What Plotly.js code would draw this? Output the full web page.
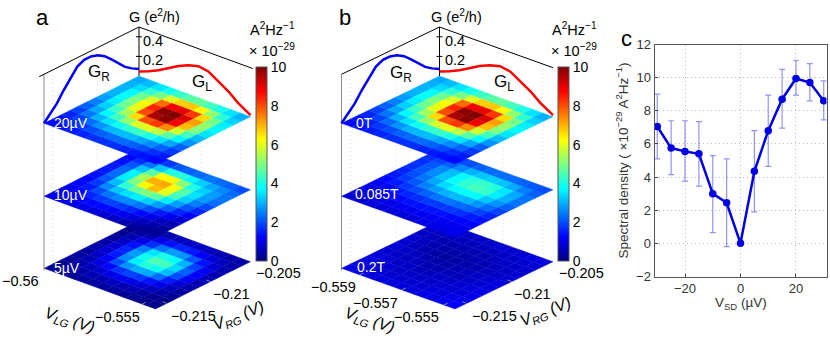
<!DOCTYPE html>
<html>
<head>
<meta charset="utf-8">
<script src="https://cdn.plot.ly/plotly-3.0.1.min.js"></script>
<style>html,body{margin:0;padding:0;background:#fff}</style>
</head>
<body>
<div id="gd" style="width:830px;height:348px"></div>
<script>
// rows run along V_LG, columns along V_RG, values in 1e-29 A^2/Hz
var a20uV = [
  [1.3,1.4,1.6,1.9,2.2,2.5,2.8,3.0,3.0,3.0,2.9],
  [1.4,1.6,1.9,2.4,2.9,3.3,3.6,3.8,3.7,3.4,3.1],
  [1.5,1.8,2.3,3.0,3.7,4.3,4.8,5.0,4.8,4.2,3.5],
  [1.6,2.0,2.7,3.5,4.4,5.3,6.0,6.3,5.9,4.9,3.9],
  [1.7,2.2,3.0,3.9,5.2,6.6,8.0,8.4,7.7,5.9,4.3],
  [1.7,2.3,3.1,4.2,5.9,8.0,9.6,9.9,8.9,6.7,4.6],
  [1.7,2.3,3.1,4.3,6.0,8.2,9.9,10,9.0,6.8,4.7],
  [1.6,2.2,2.9,4.0,5.6,7.4,8.9,9.1,8.2,6.3,4.4],
  [1.5,2.0,2.6,3.5,4.6,5.8,6.9,7.2,6.6,5.2,4.0],
  [1.4,1.7,2.2,2.9,3.7,4.4,5.0,5.2,4.9,4.2,3.5],
  [1.3,1.5,1.8,2.2,2.7,3.1,3.5,3.7,3.6,3.3,3.0]
];
var a10uV = [
  [1.0,1.0,1.1,1.2,1.3,1.4,1.5,1.5,1.4,1.3,1.2],
  [1.0,1.1,1.3,1.5,1.8,2.1,2.3,2.3,2.1,1.7,1.3],
  [1.0,1.2,1.6,2.0,2.6,3.1,3.6,3.7,3.2,2.4,1.5],
  [1.0,1.3,1.8,2.4,3.2,4.2,5.0,5.4,4.6,3.2,1.8],
  [0.9,1.3,1.9,2.6,3.5,4.8,6.3,7.0,6.2,4.0,2.1],
  [0.8,1.2,1.8,2.6,3.6,5.0,6.9,7.1,6.3,4.1,2.2],
  [0.7,1.1,1.6,2.4,3.3,4.6,6.0,6.2,5.1,3.7,2.3],
  [0.5,0.9,1.3,2.0,2.8,3.6,4.4,4.6,4.0,3.3,2.4],
  [0.3,0.6,1.0,1.5,2.2,2.8,3.3,3.5,3.3,2.9,2.3],
  [0.2,0.4,0.7,1.1,1.6,2.1,2.5,2.8,2.8,2.6,2.2],
  [0.2,0.3,0.5,0.8,1.2,1.6,2.0,2.3,2.4,2.3,2.0]
];
var a5uV = [
  [0.2,0.2,0.2,0.3,0.3,0.4,0.4,0.3,0.2,0.1,0.1],
  [0.2,0.3,0.4,0.5,0.7,0.8,0.8,0.7,0.5,0.3,0.2],
  [0.2,0.4,0.6,0.9,1.2,1.5,1.6,1.4,1.0,0.6,0.3],
  [0.3,0.5,0.8,1.3,2.0,2.6,2.8,2.5,1.7,1.0,0.5],
  [0.3,0.5,1.0,1.7,2.7,3.6,3.9,3.5,2.4,1.4,0.6],
  [0.3,0.6,1.1,1.9,3.0,4.1,4.5,4.0,2.8,1.6,0.7],
  [0.3,0.5,1.0,1.8,2.9,3.9,4.4,3.8,2.7,1.5,0.7],
  [0.2,0.5,0.8,1.4,2.3,3.1,3.4,3.0,2.1,1.2,0.6],
  [0.2,0.3,0.6,1.0,1.5,2.0,2.2,1.9,1.4,0.9,0.5],
  [0.1,0.2,0.4,0.6,0.8,1.1,1.2,1.1,0.8,0.6,0.4],
  [0.1,0.1,0.2,0.3,0.4,0.5,0.6,0.5,0.5,0.4,0.4]
];
var b0T = a20uV; // same sweep as the 20uV map
var b085T = [
  [0.8,0.9,1.0,1.2,1.3,1.5,1.6,1.7,1.7,1.7,1.7],
  [0.8,0.9,1.1,1.3,1.5,1.8,2.0,2.1,2.1,1.9,1.8],
  [0.9,1.0,1.2,1.5,1.8,2.1,2.4,2.6,2.6,2.2,1.9],
  [0.9,1.0,1.3,1.6,2.0,2.5,2.9,3.2,3.1,2.6,2.0],
  [0.9,1.1,1.4,1.7,2.2,2.8,3.4,3.8,3.7,3.0,2.2],
  [0.9,1.1,1.4,1.8,2.4,3.0,3.7,4.2,4.1,3.2,2.3],
  [0.9,1.1,1.4,1.8,2.4,3.1,3.8,4.4,4.3,3.3,2.3],
  [1.0,1.1,1.4,1.8,2.3,3.0,3.7,4.3,4.1,3.2,2.3],
  [1.0,1.1,1.3,1.7,2.2,2.7,3.2,3.6,3.5,2.9,2.2],
  [1.0,1.1,1.2,1.5,1.9,2.3,2.7,3.0,2.9,2.5,2.1],
  [1.1,1.1,1.2,1.4,1.6,1.9,2.2,2.4,2.4,2.2,2.0]
];
var b02T = [
  [1.0,0.9,0.9,0.9,0.8,0.8,0.8,0.8,0.7,0.7,0.7],
  [1.0,0.9,0.8,0.8,0.7,0.7,0.6,0.6,0.6,0.6,0.7],
  [0.9,0.8,0.8,0.7,0.6,0.6,0.5,0.5,0.5,0.6,0.7],
  [0.9,0.8,0.7,0.7,0.6,0.5,0.4,0.4,0.5,0.6,0.7],
  [0.9,0.8,0.7,0.6,0.5,0.4,0.3,0.4,0.5,0.6,0.7],
  [0.9,0.8,0.7,0.6,0.5,0.4,0.4,0.4,0.5,0.6,0.7],
  [0.9,0.8,0.7,0.7,0.6,0.5,0.4,0.5,0.5,0.6,0.8],
  [1.0,0.9,0.8,0.7,0.6,0.6,0.5,0.5,0.6,0.7,0.8],
  [1.0,0.9,0.8,0.8,0.7,0.7,0.6,0.6,0.7,0.7,0.8],
  [1.1,1.0,0.9,0.9,0.8,0.8,0.7,0.7,0.7,0.8,0.9],
  [1.2,1.1,1.0,1.0,0.9,0.9,0.8,0.8,0.8,0.8,0.9]
];

// conductance traces on the back walls
var grFrac = [0,0.065,0.136,0.208,0.28,0.351,0.423,0.495,0.566,0.638,0.71,0.781,0.853,0.925,1];
var grG = [0,0.069,0.137,0.239,0.324,0.409,0.443,0.443,0.421,0.377,0.309,0.235,0.164,0.114,0.072];
var glFrac = [0,0.087,0.176,0.265,0.354,0.444,0.533,0.622,0.712,0.801,0.89,1];
var glG = [0.046,0.084,0.132,0.192,0.25,0.295,0.322,0.305,0.245,0.177,0.093,0.017];

// panel c
var vsd = [-30,-25,-20,-15,-10,-5,0,5,10,15,20,25,30];
var spectral = [7.05,5.75,5.55,5.4,3,2.45,0,4.35,6.8,8.7,9.95,9.7,8.6];
var errUp = [1.95,1.65,1.85,1.95,2.3,2.65,0,2.45,2.15,1.8,1.1,1.15,1.2];
var errDown = [1.95,1.6,1.8,1.95,2.35,2.65,0,2.45,2.15,1.75,1,1.1,1.15];

var jetStops = [[0,[0,0,128]],[0.125,[0,0,255]],[0.375,[0,255,255]],[0.625,[255,255,0]],[0.875,[255,0,0]],[1,[128,0,0]]];
var jetScale = jetStops.map(function(s) { return [s[0], "rgb(" + s[1].join(",") + ")"]; });

function jetColor(val) {
  var t = val / 10;
  for (var k = 1; k < jetStops.length; k++) {
    if (t <= jetStops[k][0]) {
      var a = jetStops[k - 1], b = jetStops[k];
      var f = (t - a[0]) / (b[0] - a[0]);
      return "rgb(" + [0, 1, 2].map(function(c) { return Math.round(a[1][c] + f * (b[1][c] - a[1][c])); }).join(",") + ")";
    }
  }
  return "rgb(128,0,0)";
}

var traces = [];
var annotations = [];
var F = "Liberation Sans, Arial, sans-serif";
var LAYER = [0, 72, 145];   // stacking height of the maps
var WALL_TOP = 194;
var G_SCALE = 98;

// oblique view: u along V_LG, v along V_RG, h upwards
function projector(p) {
  return function(u, v, h) {
    return [p.lx + u * (p.bx - p.lx) + v * (p.tx - p.lx),
            p.ly + u * (p.by - p.ly) + v * (p.ty - p.ly) - h];
  };
}

function line(pts, color, width, dash) {
  traces.push({
    type: "scatter", mode: "lines", hoverinfo: "skip", showlegend: false,
    x: pts.map(function(q) { return q[0]; }),
    y: pts.map(function(q) { return q[1]; }),
    line: {color: color, width: width, dash: dash || "solid", shape: "linear"}
  });
}

function label(text, x, y, size, opts) {
  var o = opts || {};
  annotations.push({
    text: text, x: x / 830, y: 1 - y / 348, xref: "paper", yref: "paper",
    xanchor: "center", yanchor: "middle", showarrow: false,
    textangle: o.angle || 0,
    font: {family: F, size: size, color: o.color || "#000"}
  });
}

function panel(p) {
  var P = projector(p);

  p.wallGridV.forEach(function(v) { line([P(0, v, 0), P(0, v, WALL_TOP)], "#dcdcdc", 1, "1px,3px"); });
  p.wallGridU.forEach(function(u) { line([P(u, 1, 0), P(u, 1, WALL_TOP)], "#dcdcdc", 1, "1px,3px"); });
  line([P(0, 0, -2), P(0, 0, WALL_TOP)], p.wallColor, p.wallWidth);

  // maps, lowest first so the upper one covers the overlap
  p.maps.forEach(function(m, n) {
    var h = LAYER[n];
    m.forEach(function(row, i) {
      row.forEach(function(val, j) {
        var c = [P(i / 11, j / 11, h), P((i + 1) / 11, j / 11, h), P((i + 1) / 11, (j + 1) / 11, h), P(i / 11, (j + 1) / 11, h), P(i / 11, j / 11, h)];
        var col = jetColor(val);
        traces.push({
          type: "scatter", mode: "lines", fill: "toself", fillcolor: col, hoverinfo: "skip", showlegend: false,
          x: c.map(function(q) { return q[0]; }),
          y: c.map(function(q) { return q[1]; }),
          line: {color: col, width: 0.4}
        });
      });
    });
  });

  // roof and G axis
  line([P(0, p.roofStart, WALL_TOP), P(0, 1, WALL_TOP), P(p.roofEnd, 1, WALL_TOP)], "#000", 1);
  line([P(0, 1, LAYER[2]), P(0, 1, WALL_TOP)], "#000", 1);
  [0.2, 0.4].forEach(function(g) {
    var q = P(0, 1, LAYER[2] + g * G_SCALE);
    line([[q[0] - 3, q[1]], [q[0] + 3, q[1]]], "#000", 1);
  });

  // floor ticks
  p.tickU.forEach(function(u) { var q = P(u, 0, 0), r = P(u, 0.04, 0); line([q, r], "#888", 1); });
  p.tickV.forEach(function(v) { var q = P(1, v, 0), r = P(0.96, v, 0); line([q, r], "#888", 1); });

  // G_R and G_L
  line(grFrac.map(function(f, k) { return P(0, f, LAYER[2] + grG[k] * G_SCALE); }), "#0000ff", 2.5);
  line(glFrac.map(function(f, k) { return P(f, 1, LAYER[2] + glG[k] * G_SCALE); }), "#ff0000", 2.5);

  // colour bar
  traces.push({
    type: "scatter", mode: "markers", x: [null], y: [null], showlegend: false, hoverinfo: "skip",
    marker: {
      color: [0], cmin: 0, cmax: 10, colorscale: jetScale, showscale: true,
      colorbar: {
        x: p.cbarX / 830, xanchor: "left", xref: "paper",
        y: 1 - 261 / 348, yanchor: "bottom", yref: "paper",
        len: 194, lenmode: "pixels", thickness: 11, thicknessmode: "pixels",
        outlinecolor: "#555", outlinewidth: 1, xpad: 0, ypad: 0,
        tickvals: [0, 2, 4, 6, 8, 10], ticks: "", ticklabelposition: "outside",
        tickfont: {family: F, size: 14, color: "#000"}
      }
    }
  });

  p.texts.forEach(function(t) { label(t[0], t[1], t[2], t[3], t[4]); });
}

panel({
  lx: 44, ly: 268.3, bx: 155.5, by: 309, tx: 139, ty: 221,
  maps: [a5uV, a10uV, a20uV],
  wallGridV: [0.09, 0.56], wallGridU: [0.56, 0.91],
  wallColor: "#b5b5b5", wallWidth: 1.6, roofStart: -0.05, roofEnd: 1.02,
  tickU: [0, 0.88], tickV: [0.12, 0.58],
  cbarX: 255.5,
  texts: [
    ["a", 42, 18, 22], ["G (e<sup>2</sup>/h)", 154, 16, 14.5],
    ["A<sup>2</sup>Hz<sup>−1</sup>", 272, 29, 14.5], ["× 10<sup>−29</sup>", 272, 50, 14.5],
    ["0.4", 153, 41, 14.5], ["0.2", 153, 60, 14.5],
    ["G<sub>R</sub>", 99, 73, 17], ["G<sub>L</sub>", 202, 83, 17],
    ["20µV", 71, 123, 14, {color: "#fff"}], ["10µV", 71, 195, 14, {color: "#fff"}], ["5µV", 67, 268, 14, {color: "#fff"}],
    ["−0.56", 20, 281, 14.5], ["−0.555", 117, 317, 14.5], ["−0.215", 193, 316, 14.5], ["−0.21", 231, 294, 14.5], ["−0.205", 278, 273, 14.5],
    ["<i>V<sub>LG</sub> (V)</i>", 69, 320, 16, {angle: 18}], ["<i>V<sub>RG</sub> (V)</i>", 238, 316, 16, {angle: -22}]
  ]
});

panel({
  lx: 341.5, ly: 268.3, bx: 455, by: 309, tx: 439.5, ty: 221,
  maps: [b02T, b085T, b0T],
  wallGridV: [0.09, 0.56], wallGridU: [0.56, 0.91],
  wallColor: "#8c8c8c", wallWidth: 1, roofStart: 0, roofEnd: 1,
  tickU: [0.16, 0.53, 0.9], tickV: [0.12, 0.58],
  cbarX: 558,
  texts: [
    ["b", 345, 18, 22], ["G (e<sup>2</sup>/h)", 456, 16, 14.5],
    ["A<sup>2</sup>Hz<sup>−1</sup>", 574, 29, 14.5], ["× 10<sup>−29</sup>", 574, 50, 14.5],
    ["0.4", 455, 41, 14.5], ["0.2", 455, 60, 14.5],
    ["G<sub>R</sub>", 401, 74, 17], ["G<sub>L</sub>", 504, 83, 17],
    ["0T", 364, 123, 14, {color: "#fff"}], ["0.085T", 377, 194, 14, {color: "#fff"}], ["0.2T", 371, 267, 14, {color: "#fff"}],
    ["−0.559", 333, 287, 14.5], ["−0.557", 375, 303, 14.5], ["−0.555", 417, 317, 14.5], ["−0.215", 494, 316, 14.5], ["−0.21", 532, 294, 14.5], ["−0.205", 581, 273, 14.5],
    ["<i>V<sub>LG</sub> (V)</i>", 369, 320, 16, {angle: 18}], ["<i>V<sub>RG</sub> (V)</i>", 545, 312, 16, {angle: -22}]
  ]
});

// panel c
traces.push({
  type: "scatter", mode: "lines+markers", xaxis: "x2", yaxis: "y2", showlegend: false,
  x: vsd, y: spectral,
  line: {color: "#0000e6", width: 2.5},
  marker: {color: "#0000e6", size: 7.5},
  error_y: {type: "data", symmetric: false, array: errUp, arrayminus: errDown, color: "rgba(40,40,240,0.5)", thickness: 1.2, width: 3}
});
label("c", 626, 39, 22);
label("V<sub>SD</sub> (µV)", 741, 303, 13.5, {color: "#333"});

var layout = {
  width: 830, height: 348,
  margin: {l: 0, r: 0, t: 0, b: 0},
  paper_bgcolor: "#fff", plot_bgcolor: "rgba(0,0,0,0)",
  showlegend: false,
  xaxis: {range: [0, 830], domain: [0, 1], visible: false, fixedrange: true},
  yaxis: {range: [348, 0], domain: [0, 1], visible: false, fixedrange: true},
  xaxis2: {
    anchor: "y2", domain: [654.5 / 830, 826.5 / 830], range: [-31, 31],
    tickvals: [-20, 0, 20], ticks: "inside", ticklen: 3, tickcolor: "#444",
    showline: true, mirror: true, linecolor: "#555", linewidth: 1,
    showgrid: true, gridcolor: "#bdbdbd", griddash: "1px,3px", gridwidth: 1, zeroline: false,
    tickfont: {family: F, size: 13, color: "#333"}, fixedrange: true
  },
  yaxis2: {
    anchor: "x2", domain: [1 - 276.5 / 348, 1 - 44.5 / 348], range: [-2, 12],
    tickvals: [-2, 0, 2, 4, 6, 8, 10, 12], ticks: "inside", ticklen: 3, tickcolor: "#444",
    showline: true, mirror: true, linecolor: "#555", linewidth: 1,
    showgrid: true, gridcolor: "#bdbdbd", griddash: "1px,3px", gridwidth: 1, zeroline: false,
    tickfont: {family: F, size: 13, color: "#333"}, fixedrange: true,
    title: {text: "Spectral density ( ×10<sup>−29</sup> A<sup>2</sup>Hz<sup>−1</sup>)", font: {family: F, size: 13.5, color: "#333"}, standoff: 4}
  },
  annotations: annotations
};

Plotly.newPlot("gd", traces, layout, {staticPlot: true, displayModeBar: false});
</script>
</body>
</html>
